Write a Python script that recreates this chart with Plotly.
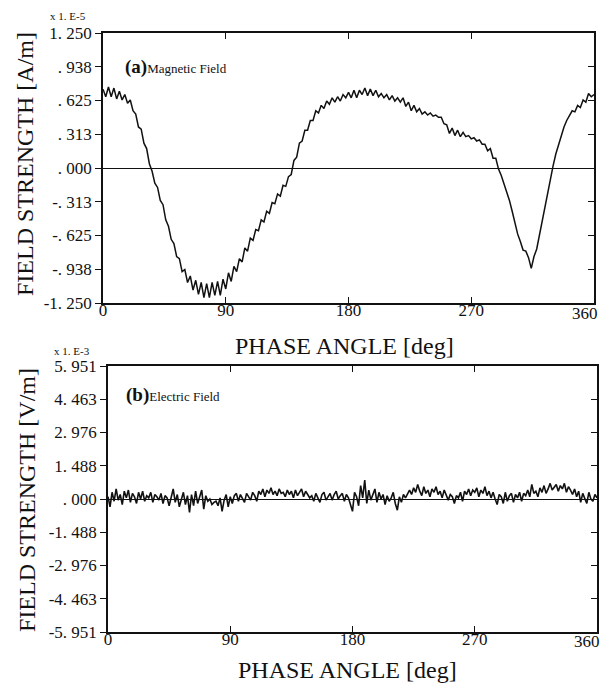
import numpy as np
import plotly.graph_objects as go

# ---------------- data ----------------
mag_angle = list(range(0, 362, 2))
mag_field = [
    0.73, 0.66, 0.75, 0.66, 0.74, 0.64, 0.71, 0.63, 0.68, 0.60,
    0.63, 0.53, 0.50, 0.38, 0.36, 0.23, 0.18, 0.04, -0.03, -0.14,
    -0.18, -0.30, -0.34, -0.48, -0.54, -0.66, -0.70, -0.82, -0.84, -0.96,
    -0.94, -1.06, -1.00, -1.13, -1.04, -1.17, -1.06, -1.20, -1.07, -1.20,
    -1.06, -1.18, -1.05, -1.18, -1.03, -1.12, -0.97, -1.05, -0.91, -0.96,
    -0.84, -0.87, -0.74, -0.77, -0.65, -0.67, -0.57, -0.58, -0.48, -0.50,
    -0.40, -0.42, -0.32, -0.33, -0.24, -0.26, -0.16, -0.17, -0.08, -0.06,
    0.07, 0.10, 0.23, 0.25, 0.35, 0.35, 0.44, 0.44, 0.53, 0.51,
    0.58, 0.55, 0.62, 0.59, 0.65, 0.61, 0.66, 0.62, 0.68, 0.65,
    0.70, 0.65, 0.72, 0.65, 0.72, 0.68, 0.74, 0.67, 0.73, 0.67,
    0.72, 0.66, 0.69, 0.65, 0.68, 0.63, 0.67, 0.62, 0.65, 0.61,
    0.65, 0.57, 0.61, 0.53, 0.58, 0.52, 0.55, 0.50, 0.52, 0.49,
    0.51, 0.48, 0.49, 0.47, 0.47, 0.41, 0.40, 0.32, 0.37, 0.30,
    0.35, 0.29, 0.33, 0.29, 0.30, 0.27, 0.28, 0.25, 0.26, 0.22,
    0.22, 0.16, 0.18, 0.09, 0.09, -0.01, -0.07, -0.14, -0.21, -0.30,
    -0.40, -0.50, -0.61, -0.68, -0.76, -0.77, -0.83, -0.93, -0.82, -0.75,
    -0.62, -0.48, -0.35, -0.22, -0.10, 0.02, 0.13, 0.22, 0.30, 0.38,
    0.44, 0.48, 0.53, 0.52, 0.58, 0.56, 0.63, 0.61, 0.69, 0.66,
    0.68,
]

ele_angle = [i * 1.5 for i in range(241)]
ele_field = [
    0.10, -0.35, 0.30, -0.10, 0.45, -0.05, 0.20, -0.25, 0.35, 0.05,
    0.40, -0.15, 0.25, 0.10, -0.20, 0.30, 0.00, 0.35, -0.10, 0.15,
    0.05, 0.30, -0.15, 0.20, 0.10, -0.05, 0.25, -0.20, 0.15, 0.05,
    -0.30, 0.10, 0.45, -0.15, 0.20, -0.35, 0.05, 0.30, -0.25, 0.15,
    -0.60, 0.20, -0.30, 0.35, -0.20, 0.10, 0.40, -0.45, 0.15, -0.10,
    0.00, -0.25, -0.15, -0.10, -0.30, 0.05, -0.55, -0.05, 0.20, -0.35,
    0.10, -0.20, 0.15, 0.25, -0.10, 0.20, 0.05, -0.15, 0.25, 0.10,
    -0.05, 0.30, 0.15, -0.10, 0.35, 0.20, 0.45, 0.10, 0.40, 0.25,
    0.50, 0.20, 0.35, 0.15, 0.45, 0.25, 0.30, 0.10, 0.40, 0.20,
    0.35, 0.05, 0.40, 0.15, 0.30, 0.45, 0.10, 0.35, 0.20, 0.05,
    0.15, -0.10, 0.25, 0.05, -0.15, 0.20, 0.30, -0.05, 0.10, 0.25,
    -0.05, 0.20, 0.35, 0.00, 0.15, 0.25, -0.10, 0.20, 0.05, -0.25,
    -0.55, 0.30, 0.10, -0.30, 0.60, 0.05, 0.85, -0.20, 0.40, -0.05,
    0.25, 0.45, -0.15, 0.30, 0.00, 0.20, -0.25, 0.15, -0.10, 0.05,
    0.30, -0.20, -0.50, 0.10, -0.15, 0.20, 0.05, 0.25, 0.40, 0.20,
    0.50, 0.30, 0.65, 0.35, 0.15, 0.55, 0.25, 0.40, 0.10, 0.45,
    0.30, 0.55, 0.20, 0.35, 0.05, 0.40, 0.15, -0.05, 0.20, 0.10,
    -0.20, 0.15, 0.05, 0.30, -0.10, 0.35, 0.20, 0.45, 0.15, 0.40,
    0.30, 0.50, 0.10, 0.40, 0.25, 0.55, 0.15, 0.35, 0.05, 0.30,
    0.00, -0.25, 0.20, 0.10, -0.20, 0.30, -0.10, 0.15, 0.25, -0.15,
    0.20, 0.05, 0.30, -0.10, 0.25, 0.15, 0.40, 0.10, 0.65, 0.25,
    0.35, 0.10, 0.50, 0.30, 0.60, 0.25, 0.45, 0.70, 0.40, 0.55,
    0.65, 0.35, 0.60, 0.45, 0.70, 0.30, 0.55, 0.40, 0.20, 0.45,
    0.10, 0.35, -0.15, 0.25, 0.05, -0.20, 0.30, 0.00, -0.10, 0.20,
    0.05,
]

x_ticks = [0, 90, 180, 270, 360]
x_ticktext = ["0", "90", "180", "270", ""]
x_last_label = "360"
mag_ticks = [1.25, 0.9375, 0.625, 0.3125, 0.0, -0.3125, -0.625, -0.9375, -1.25]
mag_ticktext = ["1. 250", ". 938", ". 625", ". 313", ". 000", "-. 313", "-. 625", "-. 938", "-1. 250"]
ele_ticks = [5.951, 4.463, 2.976, 1.488, 0.0, -1.488, -2.976, -4.463, -5.951]
ele_ticktext = ["5. 951", "4. 463", "2. 976", "1. 488", ". 000", "-1. 488", "-2. 976", "-4. 463", "-5. 951"]

# ---------------- layout helpers ----------------
W, H = 604, 684
def px(x):
    return x / W
def py(y):
    return 1 - y / H

INK = "#111111"
SERIF = "Liberation Serif"

fig = go.Figure()
fig.add_trace(go.Scatter(x=mag_angle, y=mag_field, mode="lines",
                         line=dict(color=INK, width=1.5), xaxis="x", yaxis="y",
                         showlegend=False, hoverinfo="skip"))
fig.add_trace(go.Scatter(x=ele_angle, y=ele_field, mode="lines",
                         line=dict(color=INK, width=1.6), xaxis="x2", yaxis="y2",
                         showlegend=False, hoverinfo="skip"))
# invisible traces to hold the right-hand tick axes
fig.add_trace(go.Scatter(x=[None], y=[None], xaxis="x", yaxis="y3", showlegend=False))
fig.add_trace(go.Scatter(x=[None], y=[None], xaxis="x2", yaxis="y4", showlegend=False))

tickfont = dict(family=SERIF, size=17, color=INK)

def xax(domain, anchor):
    return dict(domain=domain, anchor=anchor, range=[0, 360], tickmode="array",
                tickvals=x_ticks, ticktext=x_ticktext, ticks="inside", ticklen=6,
                tickwidth=1.2, tickcolor=INK, mirror="ticks", showline=True,
                linecolor=INK, linewidth=1.5, showgrid=False, zeroline=False,
                tickfont=dict(family=SERIF, size=17, color=INK),
                ticklabeloverflow="allow", ticklabelstandoff=-9,
                automargin=False, fixedrange=True)

def yax(domain, anchor, rng, vals, text):
    return dict(domain=domain, anchor=anchor, range=rng, tickmode="array",
                tickvals=vals, ticktext=text, ticks="outside", ticklen=6,
                tickwidth=1.2, tickcolor=INK, mirror=True, showline=True,
                linecolor=INK, linewidth=1.5, showgrid=False, zeroline=True,
                zerolinecolor=INK, zerolinewidth=1.3, tickfont=tickfont,
                ticklabeloverflow="allow", automargin=False, fixedrange=True)

def yover(over, anchor, rng, vals):
    return dict(overlaying=over, side="right", anchor=anchor, range=rng,
                tickmode="array", tickvals=vals, ticks="inside", ticklen=6,
                tickwidth=1.2, tickcolor=INK, showticklabels=False,
                showline=False, showgrid=False, zeroline=False,
                automargin=False, fixedrange=True)

fig.update_layout(
    width=W, height=H,
    margin=dict(l=0, r=0, t=0, b=0, autoexpand=False),
    paper_bgcolor="white", plot_bgcolor="white",
    xaxis=xax([px(103), px(594)], "y"),
    yaxis=yax([py(303), py(33)], "x", [-1.25, 1.25], mag_ticks, mag_ticktext),
    yaxis3=yover("y", "x", [-1.25, 1.25], mag_ticks),
    xaxis2=xax([px(108), px(597)], "y2"),
    yaxis2=yax([py(632), py(366)], "x2", [-5.951, 5.951], ele_ticks, ele_ticktext),
    yaxis4=yover("y2", "x2", [-5.951, 5.951], ele_ticks),
)

def note(text, x, y, size, angle=0, xanchor="center"):
    fig.add_annotation(text=text, x=px(x), y=py(y), xref="paper", yref="paper",
                       showarrow=False, textangle=angle, xanchor=xanchor,
                       yanchor="middle",
                       font=dict(family=SERIF, size=size, color=INK))

# end-of-axis labels, nudged inward as in the reference
note(x_last_label, 600, 313, 17, xanchor="right")
note(x_last_label, 602, 641, 17, xanchor="right")
# axis titles
note("FIELD STRENGTH [A/m]", 25, 164, 24, angle=-90)
note("PHASE ANGLE [deg]", 344, 346, 24)
note("FIELD STRENGTH [V/m]", 27, 500, 24, angle=-90)
note("PHASE ANGLE [deg]", 348, 670, 24)
# multipliers
note("x 1. E-5", 68, 16, 11)
note("x 1. E-3", 72, 351, 11)
# panel labels
note("<span style='font-size:19px'><b>(a)</b></span>Magnetic Field", 123, 67, 13, xanchor="left")
note("<span style='font-size:19px'><b>(b)</b></span>Electric Field", 124, 395, 13, xanchor="left")

fig.write_html("out.html")
